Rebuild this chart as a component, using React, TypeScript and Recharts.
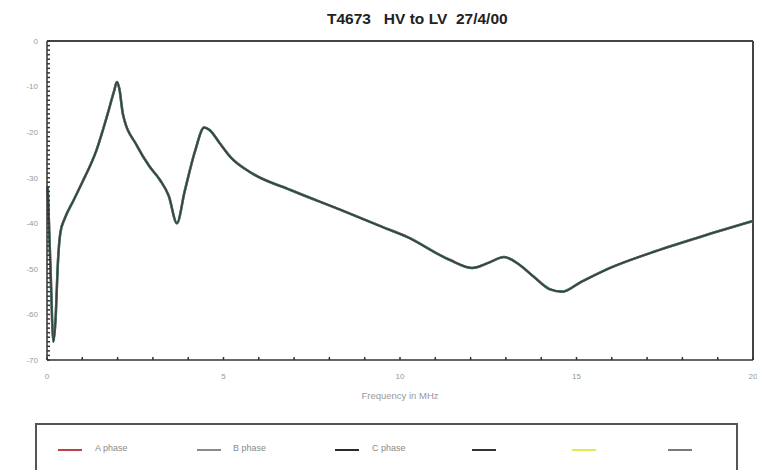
import React from 'react';
import { LineChart, Line, XAxis, YAxis, ReferenceLine } from 'recharts';

// frequency (MHz) and measured response (dB); the three phase traces overlap
const freqMHz = [
  0.02, 0.1, 0.18, 0.25, 0.3, 0.38, 0.5, 0.75, 1.0, 1.4, 1.7, 1.9, 1.98, 2.05, 2.15,
  2.55, 2.9, 3.2, 3.45, 3.68, 3.9, 4.2, 4.45, 4.6, 4.9, 5.2, 5.8, 6.9, 8.3, 9.5,
  10.2, 11.4, 12.05, 12.5, 12.95, 13.4, 13.8, 14.25, 14.6, 15.1, 15.95, 17.1, 18.5, 20,
];
const responseDb = [
  -32, -50, -66, -60, -50, -42, -39, -35, -31, -24, -16.5, -11, -9, -10.5, -16,
  -23, -27.5, -30.5, -34, -40, -33, -24, -19, -19.5, -22.5, -25.5, -29, -32.7, -37, -40.8,
  -43, -48, -49.8, -48.7, -47.4, -49.2, -51.8, -54.5, -55, -53, -49.8, -46.5, -43, -39.5,
];
const xTicks = Array.from({ length: 21 }, (_, i) => i);
const yTicks = Array.from({ length: 71 }, (_, i) => -70 + i);

const legendItems = [
  { name: 'A phase', color: '#c0404a', x: 58, textX: 95 },
  { name: 'B phase', color: '#8a8a8a', x: 197, textX: 233 },
  { name: 'C phase', color: '#2a2a2a', x: 335, textX: 372 },
  { name: '', color: '#333333', x: 472, textX: 0 },
  { name: '', color: '#e6e84a', x: 572, textX: 0 },
  { name: '', color: '#7a7a7a', x: 668, textX: 0 },
];

const data = freqMHz.map((f, i) => ({ f, a: responseDb[i], b: responseDb[i], c: responseDb[i] }));

const font = 'Liberation Sans, Arial, sans-serif';
const tickStyle = { fill: '#999', fontSize: 8, fontFamily: font };

export default function App() {
  return (
    <div style={{ position: 'absolute', left: 0, top: 0, width: 757, height: 470, overflow: 'hidden', background: '#fff' }}>
      <div
        style={{
          position: 'absolute', left: 327, top: 10, whiteSpace: 'pre',
          fontFamily: font, fontWeight: 'bold', fontSize: 15.5, color: '#222', lineHeight: '18px',
        }}
      >
        {'T4673   HV to LV  27/4/00'}
      </div>
      <LineChart width={757} height={410} data={data} margin={{ top: 41, right: 4, left: 10, bottom: 8 }}>
        <XAxis
          dataKey="f"
          type="number"
          domain={[0, 20]}
          ticks={xTicks}
          interval={0}
          tickSize={-3}
          tickMargin={16}
          tickFormatter={(v: number) => (v % 5 === 0 ? String(v) : '')}
          tick={tickStyle}
          stroke="#333"
          strokeWidth={1.5}
          height={42}
          label={{ value: 'Frequency in MHz', position: 'insideBottom', offset: 3, fill: '#999', fontSize: 9.5, fontFamily: font }}
        />
        <YAxis
          type="number"
          domain={[-70, 0]}
          ticks={yTicks}
          interval={0}
          tickSize={-3}
          tickMargin={12}
          tickFormatter={(v: number) => (v % 10 === 0 ? String(v) : '')}
          tick={tickStyle}
          stroke="#333"
          strokeWidth={1.5}
          width={37}
        />
        <ReferenceLine y={0} stroke="#444" strokeWidth={2} />
        <ReferenceLine x={20} stroke="#444" strokeWidth={2} />
        <Line type="monotone" dataKey="a" stroke="#c0404a" strokeWidth={2.5} dot={false} isAnimationActive={false} />
        <Line type="monotone" dataKey="b" stroke="#3d8f86" strokeWidth={2.5} dot={false} isAnimationActive={false} />
        <Line type="monotone" dataKey="c" stroke="#3a403c" strokeWidth={1.6} dot={false} isAnimationActive={false} />
      </LineChart>
      <div
        style={{
          position: 'absolute', left: 35, top: 423, width: 703, height: 60,
          border: '2px solid #555', boxSizing: 'border-box',
        }}
      />
      {legendItems.map((it, i) => (
        <React.Fragment key={i}>
          <div style={{ position: 'absolute', left: it.x, top: 449, width: 24, height: 2, background: it.color }} />
          {it.name && (
            <div style={{ position: 'absolute', left: it.textX, top: 443, fontSize: 9, color: '#8a8a8a', fontFamily: font }}>
              {it.name}
            </div>
          )}
        </React.Fragment>
      ))}
    </div>
  );
}
